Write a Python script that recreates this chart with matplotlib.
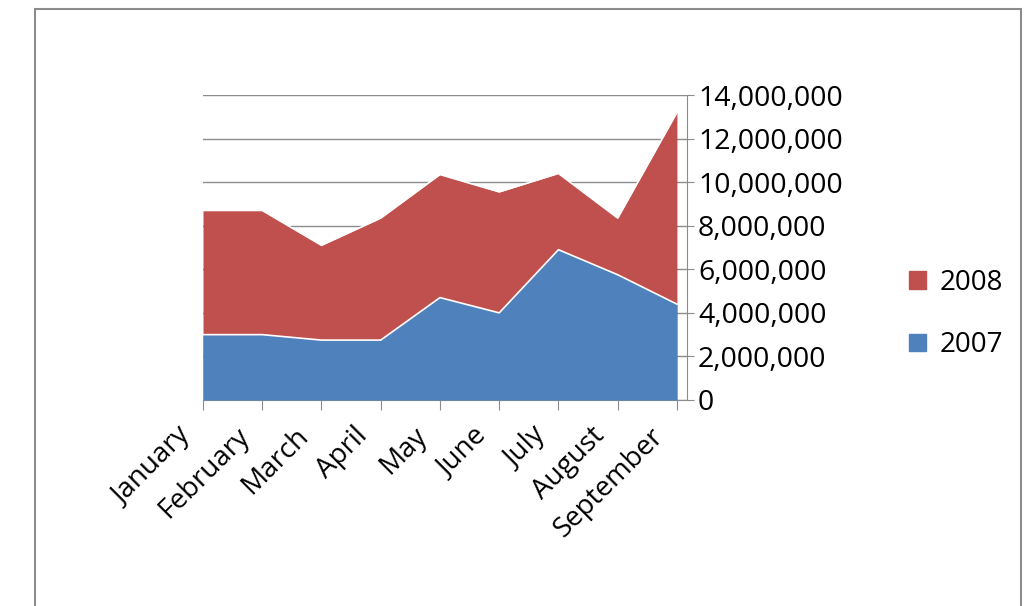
import numpy as np
import matplotlib.pyplot as plt
import matplotlib.transforms as mtransforms
from matplotlib.patches import Patch, Rectangle
from matplotlib.ticker import FuncFormatter

months = ['January', 'February', 'March', 'April', 'May', 'June',
          'July', 'August', 'September']
sales_2007 = [3.0e6, 3.0e6, 2.75e6, 2.75e6, 4.7e6, 4.0e6, 6.9e6, 5.75e6, 4.4e6]
sales_2008 = [5.7e6, 5.7e6, 4.35e6, 5.6e6, 5.65e6, 5.55e6, 3.5e6, 2.6e6, 8.8e6]

BLUE = '#4F81BD'
RED = '#C0504D'

plt.rcParams['font.family'] = ['Open Sans', 'DejaVu Sans']

fig = plt.figure(figsize=(10.36, 6.06), dpi=100)
# outer chart border
fig.patches.append(Rectangle((35 / 1036, -0.01), (1021 - 35) / 1036, 1 - 9 / 606 + 0.01,
                             transform=fig.transFigure, fill=False,
                             edgecolor='#8c8c8c', linewidth=1.5))

ax = fig.add_axes([203 / 1036, 1 - 400 / 606, (687 - 203) / 1036, (400 - 95) / 606])
x = np.arange(len(months))
total = np.array(sales_2007) + np.array(sales_2008)

ax.fill_between(x, 0, total, color=RED, linewidth=0, zorder=2)
ax.fill_between(x, 0, sales_2007, color=BLUE, linewidth=0, zorder=3)
ax.plot(x, sales_2007, color='white', linewidth=1.2, zorder=4)
ax.plot(x, total, color='white', linewidth=1.2, zorder=4)

ax.set_xlim(0, 8.17)
ax.set_ylim(0, 14e6)
ax.set_yticks(np.arange(0, 14.1e6, 2e6))
ax.yaxis.set_major_formatter(FuncFormatter(lambda v, p: f'{int(v):,}'))
ax.yaxis.tick_right()
ax.grid(axis='y', color='#8c8c8c', linewidth=1.0, zorder=0)
ax.set_axisbelow(True)

ax.set_xticks(x)
ax.set_xticklabels(months, rotation=45, ha='right', rotation_mode='anchor')
for spine in ['top', 'left']:
    ax.spines[spine].set_visible(False)
for spine in ['bottom', 'right']:
    ax.spines[spine].set_color('#8c8c8c')
ax.tick_params(axis='x', length=7, color='#8c8c8c', labelsize=20, pad=9)
ax.tick_params(axis='y', length=5, color='#8c8c8c', labelsize=20.5, pad=3)

# push the month labels left, like the original
shift = mtransforms.ScaledTranslation(-27 / 100, 0, fig.dpi_scale_trans)
for lbl in ax.get_xticklabels():
    lbl.set_transform(lbl.get_transform() + shift)

fig.legend(handles=[Patch(color=RED, label='2008'), Patch(color=BLUE, label='2007')],
           loc='center left', bbox_to_anchor=(884 / 1036, 1 - 314 / 606),
           frameon=False, fontsize=20, handlelength=0.6, handleheight=0.6,
           handletextpad=0.5, labelspacing=1.25)

fig.savefig('out.png', dpi=100)
